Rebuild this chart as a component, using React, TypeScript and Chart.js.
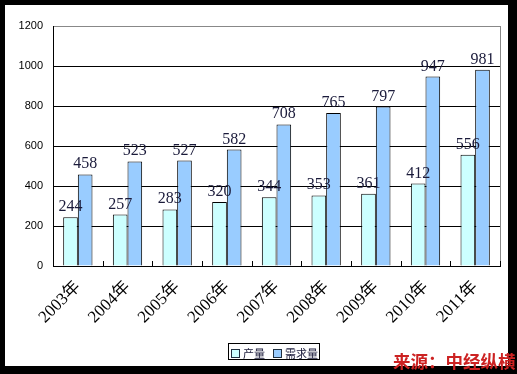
import React, { useEffect, useRef } from "react";
import { Chart, registerables } from "chart.js";

Chart.register(...registerables);

const categories = ["2003年", "2004年", "2005年", "2006年", "2007年", "2008年", "2009年", "2010年", "2011年"];
const production = [244, 257, 283, 320, 344, 353, 361, 412, 556];
const demand = [458, 523, 527, 582, 708, 765, 797, 947, 981];
const seriesNames = ["产量", "需求量"];
const yMin = 0;
const yMax = 1200;
const yStep = 200;

const SERIF = '"Liberation Serif", "Noto Sans CJK SC", serif';
const CJK = '"Noto Sans CJK SC", "Liberation Sans", sans-serif';

const frame = {
  id: "frame",
  beforeDraw(chart: any) {
    const { ctx, width, height } = chart;
    ctx.save();
    ctx.fillStyle = "#000";
    ctx.fillRect(0, 0, width, height);
    ctx.fillStyle = "#fff";
    ctx.fillRect(5, 5, 503, 361);
    ctx.restore();
  },
};

const extras = {
  id: "extras",
  afterDraw(chart: any) {
    const { ctx, chartArea } = chart;
    const xs = chart.scales.x;
    ctx.save();
    // right plot border
    ctx.strokeStyle = "#888";
    ctx.lineWidth = 1;
    ctx.beginPath();
    ctx.moveTo(Math.round(chartArea.right) + 0.5, chartArea.top);
    ctx.lineTo(Math.round(chartArea.right) + 0.5, chartArea.bottom);
    ctx.stroke();
    // inner tick marks between categories
    ctx.strokeStyle = "#000";
    const n = categories.length;
    for (let i = 1; i <= n; i++) {
      const x = Math.round(xs.getPixelForValue(i - 0.5)) + 0.5;
      ctx.beginPath();
      ctx.moveTo(x, chartArea.bottom);
      ctx.lineTo(x, chartArea.bottom - 5);
      ctx.stroke();
    }
    // data labels
    ctx.font = "16px " + SERIF;
    ctx.fillStyle = "#1a1a3a";
    ctx.textAlign = "center";
    ctx.textBaseline = "alphabetic";
    chart.data.datasets.forEach((ds: any, di: number) => {
      const meta = chart.getDatasetMeta(di);
      meta.data.forEach((el: any, i: number) => {
        ctx.fillText(String(ds.data[i]), el.x, el.y - 6);
      });
    });
    ctx.restore();
  },
};

export default function App() {
  const ref = useRef<HTMLCanvasElement>(null);
  useEffect(() => {
    if (!ref.current) return;
    const chart = new Chart(ref.current, {
      type: "bar",
      data: {
        labels: categories,
        datasets: [
          {
            label: seriesNames[0],
            data: production,
            backgroundColor: "#CCFFFF",
            borderColor: "#000",
            borderWidth: 1,
            categoryPercentage: 0.59,
            barPercentage: 1,
          },
          {
            label: seriesNames[1],
            data: demand,
            backgroundColor: "#99CCFF",
            borderColor: "#000",
            borderWidth: 1,
            categoryPercentage: 0.59,
            barPercentage: 1,
          },
        ],
      },
      options: {
        animation: false,
        responsive: false,
        devicePixelRatio: 1,
        layout: { padding: { left: 5, top: 26, right: 17, bottom: 8 } },
        plugins: { legend: { display: false }, tooltip: { enabled: false } },
        scales: {
          x: {
            offset: true,
            grid: { display: false, drawTicks: false },
            border: { display: true, color: "#000", width: 1 },
            ticks: {
              minRotation: 45,
              maxRotation: 45,
              autoSkip: false,
              padding: 11,
              color: "#000",
              font: { family: SERIF, size: 17 },
            },
            afterFit: (s: any) => {
              s.height = 100;
            },
          },
          y: {
            min: yMin,
            max: yMax,
            ticks: {
              stepSize: yStep,
              padding: 10,
              color: "#000",
              font: { family: '"Liberation Sans", sans-serif', size: 11 },
              callback: (v: any) => String(v),
            },
            grid: {
              drawTicks: false,
              color: (c: any) => (c.tick && c.tick.value === yMax ? "#888" : "#000"),
              lineWidth: 1,
            },
            border: { display: true, color: "#000", width: 1 },
            afterFit: (s: any) => {
              s.width = 48;
            },
          },
        },
      },
      plugins: [frame, extras],
    });
    return () => chart.destroy();
  }, []);

  const sq = (bg: string) => ({
    display: "inline-block",
    width: 7,
    height: 7,
    background: bg,
    border: "1px solid #203040",
    marginRight: 3,
    verticalAlign: "middle",
  });

  return (
    <div style={{ position: "absolute", left: 0, top: 0, width: 517, height: 374 }}>
      <canvas ref={ref} width={517} height={374} style={{ display: "block", width: 517, height: 374 }} />
      <div
        style={{
          position: "absolute",
          left: 228,
          top: 343,
          width: 92,
          height: 17,
          boxSizing: "border-box",
          border: "1px solid #000",
          background: "#fff",
          fontFamily: CJK,
          fontSize: 11,
          lineHeight: "15px",
          color: "#1a1a3a",
          whiteSpace: "nowrap",
          paddingLeft: 2,
        }}
      >
        <span style={sq("#CCFFFF")} />
        <span style={{ verticalAlign: "middle" }}>{seriesNames[0]}</span>
        <span style={{ display: "inline-block", width: 8 }} />
        <span style={sq("#99CCFF")} />
        <span style={{ verticalAlign: "middle" }}>{seriesNames[1]}</span>
      </div>
      <div
        style={{
          position: "absolute",
          left: 393,
          top: 352,
          fontFamily: CJK,
          fontWeight: "bold",
          fontSize: 17.5,
          lineHeight: 1,
          color: "#cc2222",
          whiteSpace: "nowrap",
        }}
      >
        来源：中经纵横
      </div>
    </div>
  );
}
